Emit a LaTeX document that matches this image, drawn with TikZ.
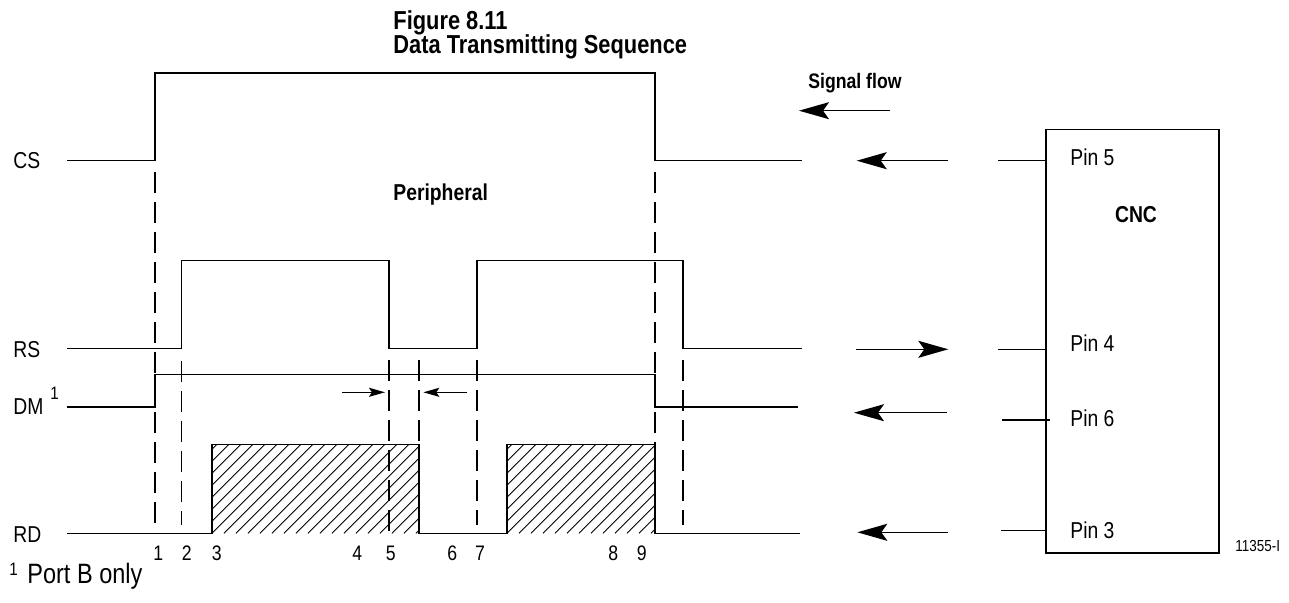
\documentclass[tikz,border=0pt]{standalone}
\usepackage{fontspec}
\setmainfont[FakeStretch=0.84]{Liberation Sans}
\usetikzlibrary{arrows.meta}
\begin{document}
\begin{tikzpicture}[x=0.5pt,y=-0.5pt,
  wave/.style={line width=0.75pt, line join=miter},
  guide/.style={line width=0.75pt, dash pattern=on 10.5pt off 4.5pt},
  flow/.style={line width=0.75pt, -{Stealth[length=15pt,width=8.5pt,inset=3pt]}},
  smallflow/.style={line width=0.75pt, -{Stealth[length=8pt,width=4.5pt,inset=1.5pt]}},
  hatch/.style={line width=0.45pt},
  lbl/.style={font=\fontsize{11.5}{13}\selectfont, inner sep=0pt},
  blbl/.style={font=\bfseries\fontsize{11.5}{13}\selectfont, inner sep=0pt},
  num/.style={font=\fontsize{10.5}{12}\selectfont, inner sep=0pt},
  ttl/.style={font=\bfseries\fontsize{13}{14}\selectfont, inner sep=0pt, anchor=base west}]
\useasboundingbox (0,0) rectangle (1289,603);

% title
\node[ttl, text depth=0pt] (fig) at (393,29.5) {Figure 8.11};
\node[ttl] (title) at (393,53.5) {Data Transmitting Sequence};
\node[blbl, anchor=west, font=\bfseries\fontsize{10.5}{12}\selectfont] (flowlbl) at (808,83) {Signal flow};
\node[blbl, anchor=west] (periph) at (393,195) {Peripheral};

% signal names
\node[lbl, anchor=west] (cs) at (13,160.7) {CS};
\node[lbl, anchor=west] (rs) at (13,350) {RS};
\node[lbl, anchor=west] (dm) at (13,407) {DM};
\node[num, anchor=base west, font=\fontsize{9}{10}\selectfont] (dmsup) at (50,400) {1};
\node[lbl, anchor=west] (rd) at (13,535) {RD};

% hatching
\begin{scope}
  \clip (212,533.3) rectangle (419,444.3);
  \foreach \x in {116,128,...,430} \draw[hatch] (\x,533.3) -- ++(89,-89);
\end{scope}
\begin{scope}
  \clip (507,533.3) rectangle (655,444.3);
  \foreach \x in {411,423,...,670} \draw[hatch] (\x,533.3) -- ++(89,-89);
\end{scope}

% waveforms
\draw[wave] (67,160.7) -- (155,160.7) -- (155,73) -- (655,73) -- (655,160.7) -- (802,160.7);
\draw[wave] (67,348.3) -- (181.7,348.3) -- (181.7,260.7) -- (389,260.7) -- (389,348.3) -- (477,348.3) -- (477,260.7) -- (683,260.7) -- (683,348.7) -- (802,348.7);
\draw[wave] (67,407) -- (155,407) -- (155,374.3) -- (655,374.3) -- (655,407) -- (798,407);
\draw[wave] (67,533.3) -- (212,533.3) -- (212,444.3) -- (419,444.3) -- (419,533.3) -- (507,533.3) -- (507,444.3) -- (655,444.3) -- (655,533.3) -- (800,533.3);

% dashed guides
\draw[guide] (155,172) -- (155,525);
\draw[guide] (181.7,361) -- (181.7,525);
\draw[guide] (389,360) -- (389,535);
\draw[guide] (419,360) -- (419,444);
\draw[guide] (477,360) -- (477,525);
\draw[guide] (655,172) -- (655,444);
\draw[guide] (683,360) -- (683,525);

% small arrows
\coordinate (a1s) at (341.7,392.3); \coordinate (a1e) at (385,392.3);
\coordinate (a2s) at (466.7,392.3); \coordinate (a2e) at (423.3,392.3);
\draw[smallflow] (a1s) -- (a1e);
\draw[smallflow] (a2s) -- (a2e);

% numbers
\node[num] (n1) at (158.3,553.3) {1};
\node[num] (n2) at (186.7,553.3) {2};
\node[num] (n3) at (216.7,553.3) {3};
\node[num] (n4) at (357.3,553.3) {4};
\node[num] (n5) at (390.7,553.3) {5};
\node[num] (n6) at (452.3,553.3) {6};
\node[num] (n7) at (480,553.3) {7};
\node[num] (n8) at (613.3,553.3) {8};
\node[num] (n9) at (641.7,553.3) {9};

% signal flow arrows
\coordinate (sfs) at (890,110.7); \coordinate (sfe) at (799,110.7);
\draw[flow] (sfs) -- (sfe);
\coordinate (css) at (947.7,160.7); \coordinate (cse) at (856.7,160.7);
\draw[flow] (css) -- (cse);
\coordinate (rss) at (856,349.3); \coordinate (rse) at (948.3,349.3);
\draw[flow] (rss) -- (rse);
\coordinate (dms) at (946.7,412.7); \coordinate (dme) at (854,412.7);
\draw[flow] (dms) -- (dme);
\coordinate (rds) at (948,532.3); \coordinate (rde) at (857.3,532.3);
\draw[flow] (rds) -- (rde);

% CNC box
\node[draw, line width=0.75pt, inner sep=0pt, minimum width=86.5pt, minimum height=211.5pt, anchor=north west] (cnc) at (1045,129) {};
\node[blbl] (cnclbl) at (1136,215) {CNC};
\coordinate (p5) at (998,160.7);
\coordinate (p4) at (998,349.3);
\coordinate (p6) at (1002,420);
\coordinate (p3) at (1000.7,530.3);
\draw[wave] (p5) -- (p5 -| cnc.west);
\draw[wave] (p4) -- (p4 -| cnc.west);
\draw[wave] (p6) -- ([xshift=2.5pt]p6 -| cnc.west);
\draw[wave] (p3) -- (p3 -| cnc.west);
\node[lbl, anchor=west] (pin5) at (1070,157.3) {Pin 5};
\node[lbl, anchor=west] (pin4) at (1070,342.7) {Pin 4};
\node[lbl, anchor=west] (pin6) at (1070,418.3) {Pin 6};
\node[lbl, anchor=west] (pin3) at (1070,530) {Pin 3};
\node[num, anchor=west, font=\fontsize{8}{9}\selectfont] (code) at (1235,546) {11355-I};

% footnote
\node[inner sep=0pt, anchor=base west, font=\fontsize{9}{10}\selectfont] (fnsup) at (9,575) {1};
\node[inner sep=0pt, anchor=base west, font=\fontsize{14}{16}\selectfont] (fn) at (27,583) {Port B only};
\end{tikzpicture}
\end{document}
